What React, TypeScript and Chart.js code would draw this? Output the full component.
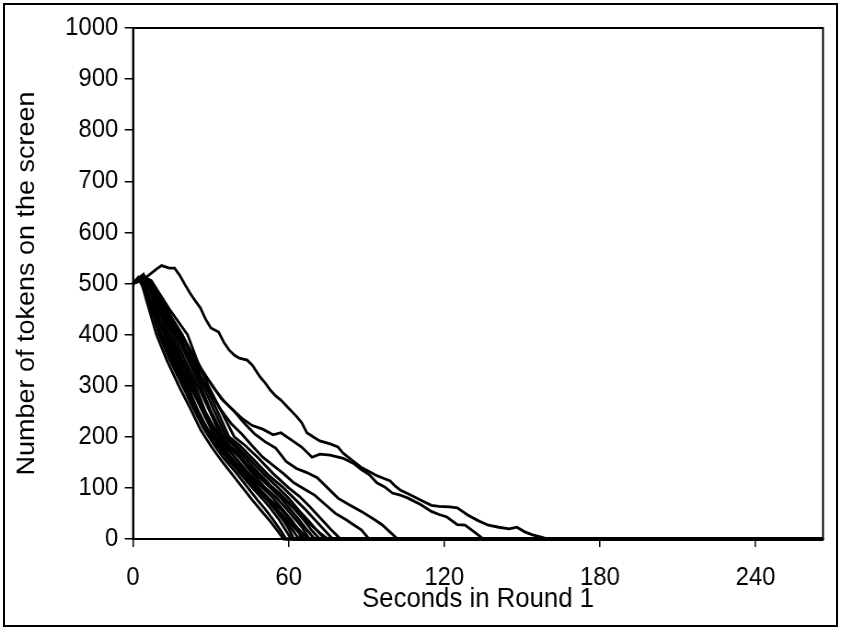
import React, { useEffect, useRef } from "react";
import { Chart, registerables } from "chart.js";

Chart.register(...registerables);

// ---- data (seconds, tokens on screen) ----
const xTickValues = [0, 60, 120, 180, 240];
const yTickValues = [0, 100, 200, 300, 400, 500, 600, 700, 800, 900, 1000];
const xMax = 266;
const yMax = 1000;
const xTitle = "Seconds in Round 1";
const yTitle = "Number of tokens on the screen";

const runA: [number, number][] = [[0,500],[3,505],[6,516],[9,528],[11,535],[14,530],[16,530],[18,516],[20,498],[22,481],[24,466],[26,452],[28,430],[30,413],[33,405],[35,385],[37,370],[39,360],[41,354],[44,350],[46,340],[49,317],[51,305],[53,291],[55,280],[57,272],[60,256],[63,240],[65,228],[67,208],[70,198],[72,192],[76,186],[79,180],[81,168],[84,156],[88,140],[91,132],[94,124],[97,118],[99,114],[101,104],[103,96],[107,86],[111,76],[115,66],[118,64],[122,63],[125,61],[127,54],[129,47],[133,36],[137,27],[141,23],[145,20],[148,23],[151,14],[154,8],[157,4],[160,0],[266,0]];
const runB: [number, number][] = [[0,500],[3,512],[6,508],[10,478],[14,440],[18,405],[22,368],[26,330],[30,305],[34,275],[38,255],[42,236],[46,222],[50,215],[54,204],[57,208],[61,194],[65,180],[69,160],[72,166],[76,164],[81,158],[85,148],[88,136],[91,126],[94,110],[97,102],[100,90],[103,86],[106,80],[111,67],[115,54],[118,48],[121,43],[125,28],[128,27],[131,16],[133,8],[135,0],[266,0]];
const runC: [number, number][] = [[0,500],[4,515],[7,505],[11,470],[15,432],[19,398],[23,362],[27,328],[31,296],[35,270],[39,250],[43,226],[47,205],[51,190],[55,178],[59,152],[63,138],[67,130],[71,120],[75,100],[79,80],[83,68],[88,54],[93,38],[96,28],[99,14],[102,0],[266,0]];
const runD: [number, number][] = [[0,500],[3,512],[6,498],[10,462],[14,422],[18,390],[22,355],[26,318],[30,285],[34,252],[38,225],[42,205],[46,182],[50,160],[54,144],[58,128],[62,110],[66,98],[70,86],[74,68],[78,50],[82,38],[85,28],[88,18],[91,0],[266,0]];
const runL1: [number, number][] = [[0,500],[3,506],[5,470],[9,400],[13,350],[18,296],[22,256],[26,214],[30,182],[34,154],[38,128],[42,102],[46,76],[50,52],[53,34],[56,14],[58,0],[266,0]];
const runL2: [number, number][] = [[0,500],[2,510],[4,498],[7,452],[10,400],[14,352],[19,300],[23,258],[27,218],[31,186],[35,158],[40,128],[44,102],[48,76],[51,58],[54,38],[57,16],[59,0],[266,0]];
const runL3: [number, number][] = [[0,500],[3,514],[5,496],[8,446],[11,400],[15,352],[20,300],[24,256],[28,216],[32,186],[36,160],[41,130],[46,100],[50,78],[53,60],[56,40],[58,24],[60,8],[61,0],[266,0]];
const runL4: [number, number][] = [[0,500],[4,516],[6,494],[9,448],[12,400],[16,348],[21,300],[25,252],[29,212],[33,184],[38,158],[43,126],[47,100],[51,80],[55,56],[58,36],[60,20],[62,0],[266,0]];
const runL5: [number, number][] = [[0,500],[2,508],[5,488],[9,440],[13,400],[17,354],[22,300],[26,258],[31,206],[35,178],[39,152],[44,122],[48,100],[52,78],[56,54],[59,34],[62,14],[64,0],[266,0]];
const runL6: [number, number][] = [[0,500],[3,512],[6,496],[10,444],[14,400],[18,356],[23,300],[27,252],[32,200],[36,178],[40,156],[45,126],[50,100],[54,80],[58,56],[61,38],[64,16],[66,0],[266,0]];
const runL7: [number, number][] = [[0,500],[4,514],[7,492],[11,442],[15,400],[19,350],[24,300],[28,248],[33,200],[37,180],[41,160],[46,128],[51,100],[55,82],[59,60],[62,42],[65,24],[68,0],[266,0]];
const runL8: [number, number][] = [[0,500],[3,510],[6,502],[11,448],[16,400],[20,350],[25,300],[29,256],[34,200],[38,178],[42,156],[48,124],[53,100],[57,80],[61,56],[64,38],[67,18],[70,0],[266,0]];
const runL9: [number, number][] = [[0,500],[4,515],[7,498],[12,446],[17,400],[21,352],[26,300],[30,250],[35,200],[39,182],[43,160],[49,126],[54,100],[58,80],[62,60],[66,36],[69,16],[72,0],[266,0]];
const runL10: [number, number][] = [[0,500],[3,512],[6,504],[12,450],[18,400],[22,350],[27,300],[31,254],[36,200],[40,182],[45,156],[51,124],[56,100],[60,80],[64,56],[68,34],[71,16],[74,0],[266,0]];
const runL11: [number, number][] = [[0,500],[4,516],[7,502],[13,448],[19,400],[23,352],[28,300],[32,256],[37,200],[41,184],[46,158],[52,126],[58,100],[62,80],[66,60],[70,38],[74,16],[77,0],[266,0]];
const runL12: [number, number][] = [[0,500],[3,510],[7,506],[14,450],[21,400],[25,346],[29,300],[34,250],[39,200],[43,184],[48,160],[54,128],[60,100],[64,84],[68,64],[72,42],[76,20],[80,0],[266,0]];
const runL13: [number, number][] = [[0,500],[2,512],[5,480],[9,420],[13,372],[17,330],[21,290],[25,246],[29,214],[33,190],[37,160],[41,136],[45,112],[49,96],[53,76],[57,58],[60,40],[63,24],[66,8],[68,0],[266,0]];
const runL14: [number, number][] = [[0,500],[4,518],[8,470],[12,420],[16,370],[20,322],[24,280],[28,238],[32,210],[36,188],[40,170],[44,146],[48,128],[52,108],[56,92],[60,72],[64,50],[68,30],[72,12],[75,0],[266,0]];
const runL15: [number, number][] = [[0,500],[3,508],[6,476],[10,426],[14,380],[18,334],[22,298],[26,264],[30,228],[34,196],[38,168],[42,140],[46,116],[50,90],[54,66],[58,44],[61,28],[64,12],[65,0],[266,0]];

const runs = [runA, runB, runC, runD, runL1, runL2, runL3, runL4, runL5, runL6, runL7, runL8, runL9, runL10, runL11, runL12, runL13, runL14, runL15];

const FONT = "'Liberation Sans', Arial, Helvetica, sans-serif";
// the original lettering is slightly condensed: draw wider, then squeeze horizontally
const SQUEEZE = 0.92;
const OUT_W = 841;
const OUT_H = 630;
const CANVAS_W = Math.round(OUT_W / SQUEEZE);

const framePlugin = {
  id: "plotFrame",
  afterDraw(chart: any) {
    const { ctx, chartArea } = chart;
    const { left, top, right, bottom } = chartArea;
    ctx.save();
    ctx.strokeStyle = "#000";
    ctx.lineWidth = 2;
    ctx.strokeRect(left, top, right - left, bottom - top);
    ctx.restore();
  },
};

export default function App() {
  const canvasRef = useRef<HTMLCanvasElement | null>(null);

  useEffect(() => {
    const canvas = canvasRef.current;
    if (!canvas) return;
    const chart = new Chart(canvas, {
      type: "line",
      data: {
        datasets: runs.map((run, i) => ({
          label: "run " + (i + 1),
          data: run.map(([x, y]) => ({ x, y })),
          borderColor: "#000",
          backgroundColor: "#000",
          borderWidth: 2.8,
          pointRadius: 0,
          tension: 0,
          fill: false,
          clip: false as any,
        })),
      },
      options: {
        animation: false,
        responsive: false,
        devicePixelRatio: 1,
        layout: { padding: { top: 28, right: 18 / SQUEEZE, left: 0, bottom: 0 } },
        plugins: {
          legend: { display: false },
          tooltip: { enabled: false },
        },
        scales: {
          x: {
            type: "linear",
            min: 0,
            max: xMax,
            afterBuildTicks: (s: any) => {
              s.ticks = xTickValues.map((v) => ({ value: v }));
            },
            afterFit: (s: any) => {
              s.height = 91;
            },
            ticks: {
              color: "#000",
              font: { family: FONT, size: 26 },
              padding: 15,
              maxRotation: 0,
              autoSkip: false,
              callback: (v: any) => String(v),
            },
            grid: {
              drawOnChartArea: false,
              drawTicks: true,
              tickLength: 8,
              color: "#000",
              lineWidth: 1.5,
            },
            border: { display: true, color: "#000", width: 2 },
            title: {
              display: true,
              text: xTitle,
              color: "#000",
              font: { family: FONT, size: 28 },
              padding: { top: 0, bottom: 14 },
            },
          },
          y: {
            type: "linear",
            min: 0,
            max: yMax,
            afterBuildTicks: (s: any) => {
              s.ticks = yTickValues.map((v) => ({ value: v }));
            },
            afterFit: (s: any) => {
              s.width = 133 / SQUEEZE;
            },
            ticks: {
              color: "#000",
              font: { family: FONT, size: 26 },
              padding: 7,
              autoSkip: false,
              callback: (v: any) => String(v),
            },
            grid: {
              drawOnChartArea: false,
              drawTicks: true,
              tickLength: 9,
              color: "#000",
              lineWidth: 1.5,
            },
            border: { display: true, color: "#000", width: 2 },
            title: {
              display: true,
              text: yTitle,
              color: "#000",
              font: { family: FONT, size: 27 },
              padding: { top: 13, bottom: 0 },
            },
          },
        },
      },
      plugins: [framePlugin],
    });
    return () => chart.destroy();
  }, []);

  return (
    <div style={{ position: "absolute", left: 0, top: 0, width: OUT_W, height: OUT_H, background: "#fff", overflow: "hidden" }}>
      <div style={{ width: CANVAS_W, height: OUT_H, transform: `scaleX(${OUT_W / CANVAS_W})`, transformOrigin: "0 0" }}>
        <canvas ref={canvasRef} width={CANVAS_W} height={OUT_H} style={{ display: "block", width: CANVAS_W, height: OUT_H }} />
      </div>
      <div
        style={{
          position: "absolute",
          left: 3,
          top: 3,
          width: 835,
          height: 624,
          border: "2px solid #000",
          boxSizing: "border-box",
          pointerEvents: "none",
        }}
      />
    </div>
  );
}
